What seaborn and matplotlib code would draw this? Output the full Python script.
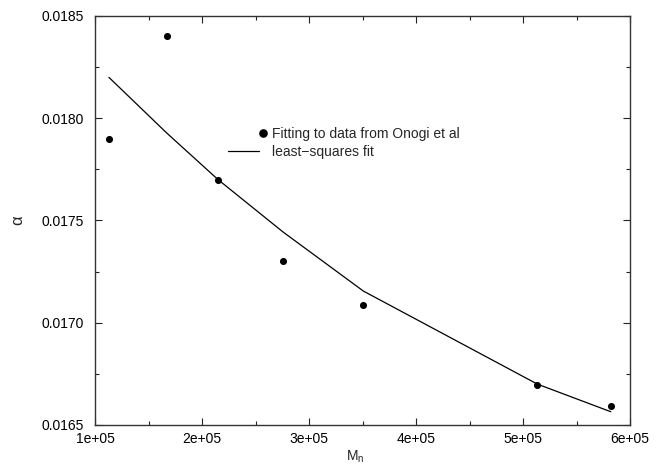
import matplotlib
matplotlib.use("Agg")
import matplotlib.pyplot as plt
from matplotlib.legend_handler import HandlerLine2D
from matplotlib.lines import Line2D
from matplotlib.ticker import MultipleLocator
import numpy as np
import pandas as pd
import seaborn as sns

# ---- data ----
mn_values = [1.13e5, 1.67e5, 2.15e5, 2.757e5, 3.508e5, 5.134e5, 5.82e5]
alpha_data = [0.01790, 0.01840, 0.01770, 0.01730, 0.017085, 0.016696, 0.016594]
alpha_fit = [0.01820, 0.017928, 0.01770, 0.017444, 0.017155, 0.016700, 0.016565]

x_ticks = [1e5, 2e5, 3e5, 4e5, 5e5, 6e5]
x_tick_labels = ["1e+05", "2e+05", "3e+05", "4e+05", "5e+05", "6e+05"]
y_ticks = [0.0165, 0.0170, 0.0175, 0.0180, 0.0185]
y_tick_labels = ["0.0165", "0.0170", "0.0175", "0.0180", "0.0185"]

label_data = "Fitting to data from Onogi et al"
label_fit = "least\u2212squares fit"

df = pd.DataFrame({"Mn": mn_values, "data": alpha_data, "fit": alpha_fit})

sns.set_theme(style="ticks")
plt.rcParams["font.family"] = ["Liberation Sans", "DejaVu Sans"]
plt.rcParams["mathtext.fontset"] = "custom"
plt.rcParams["mathtext.rm"] = "Liberation Sans"

fig = plt.figure(figsize=(6.67, 4.66), dpi=100)
ax = fig.add_axes([95 / 667, 1 - 425 / 466, (630 - 95) / 667, (425 - 16) / 466])

sns.lineplot(data=df, x="Mn", y="fit", ax=ax, color="black", linewidth=0.9,
             label=label_fit, legend=False, estimator=None)
sns.scatterplot(data=df, x="Mn", y="data", ax=ax, color="black", s=26,
                edgecolor="black", linewidth=0, label=label_data, legend=False, zorder=3)

ax.set_xlim(x_ticks[0], x_ticks[-1])
ax.set_ylim(y_ticks[0], y_ticks[-1])
ax.set_xticks(x_ticks)
ax.set_xticklabels(x_tick_labels)
ax.set_yticks(y_ticks)
ax.set_yticklabels(y_tick_labels)
ax.xaxis.set_minor_locator(MultipleLocator(0.5e5))
ax.yaxis.set_minor_locator(MultipleLocator(0.00025))

ax.tick_params(which="both", direction="in", top=True, right=True, colors="#222222",
               labelcolor="black", labelsize=10)
ax.tick_params(which="major", length=5, width=0.8)
ax.tick_params(which="minor", length=3, width=0.8)
ax.tick_params(axis="x", pad=5)
ax.tick_params(axis="y", pad=8)
for sp in ax.spines.values():
    sp.set_visible(True)
    sp.set_color("#333333")
    sp.set_linewidth(1.0)

ax.set_xlabel(r"M$_\mathregular{n}$", fontsize=10)
ax.xaxis.set_label_coords(0.486, -0.057)
ax.set_ylabel("\u03b1", fontsize=12, labelpad=12)


class RightMarkerHandler(HandlerLine2D):
    def get_xdata(self, legend, xdescent, ydescent, width, height, fontsize):
        c = width - xdescent + 3.0
        xdata = np.array([c - 0.5, c + 0.5])
        return xdata, np.array([c])


h_pt = Line2D([], [], linestyle="none", marker="o", color="black", markersize=5.2)
h_ln = Line2D([], [], color="black", linewidth=0.9)
ax.legend([h_pt, h_ln], [label_data, label_fit], frameon=False, loc="upper left",
          bbox_to_anchor=((228 - 95) / 535, (425 - 127) / 409), borderaxespad=0,
          borderpad=0, handlelength=2.2, handletextpad=0.95, labelspacing=0.3,
          fontsize=10, handler_map={h_pt: RightMarkerHandler(numpoints=1)})

fig.savefig("out.png", dpi=100)
